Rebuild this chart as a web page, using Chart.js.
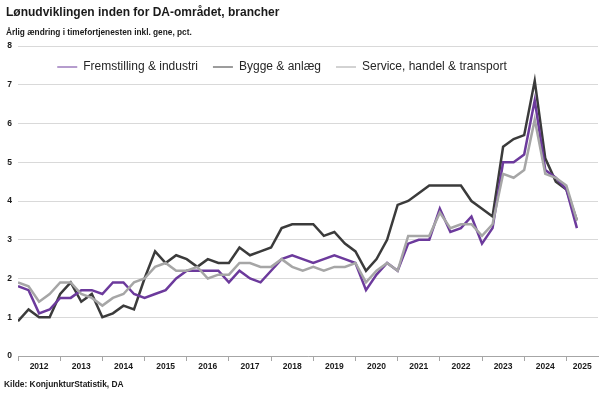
<!DOCTYPE html>
<html lang="da">
<head>
  <meta charset="UTF-8" />
  <title>Lønudviklingen inden for DA-området, brancher</title>
  <script src="https://cdn.jsdelivr.net/npm/chart.js"></script>
  <style>
    body {
      margin: 0;
      background: #fff;
      font-family: 'Liberation Sans', Arial, sans-serif;
      color: #1a1a1a;
    }
    .wrap {
      position: relative;
      width: 602px;
      height: 393px;
    }
    .chart-box {
      position: absolute;
      left: 0;
      top: 0;
      width: 602px;
      height: 393px;
    }
    .title, .sub, .src {
      position: absolute;
      font-weight: bold;
      white-space: nowrap;
    }
    .title { left: 6px; top: 5px; font-size: 12px; }
    .sub { left: 6px; top: 27px; font-size: 8.3px; }
    .src { left: 4px; top: 379px; font-size: 8.4px; }
  </style>
</head>
<body>
  <div class="wrap">
    <div class="chart-box"><canvas id="chart"></canvas></div>
    <div class="title">Lønudviklingen inden for DA-området, brancher</div>
    <div class="sub">Årlig ændring i timefortjenesten inkl. gene, pct.</div>
    <div class="src">Kilde: KonjunkturStatistik, DA</div>
  </div>

  <script>
    // kvartaler 2012K1 - 2025K2
    const years = ['2012', '2013', '2014', '2015', '2016', '2017', '2018',
                   '2019', '2020', '2021', '2022', '2023', '2024', '2025'];

    const fremstilling = [
      1.8, 1.7, 1.1, 1.2,  1.5, 1.5, 1.7, 1.7,  1.6, 1.9, 1.9, 1.6,
      1.5, 1.6, 1.7, 2.0,  2.2, 2.2, 2.2, 2.2,  1.9, 2.2, 2.0, 1.9,
      2.2, 2.5, 2.6, 2.5,  2.4, 2.5, 2.6, 2.5,  2.4, 1.7, 2.1, 2.4,
      2.2, 2.9, 3.0, 3.0,  3.8, 3.2, 3.3, 3.6,  2.9, 3.3, 5.0, 5.0,
      5.2, 6.6, 4.8, 4.6,  4.3, 3.3
    ];
    const bygge = [
      0.9, 1.2, 1.0, 1.0,  1.6, 1.9, 1.4, 1.6,  1.0, 1.1, 1.3, 1.2,
      2.0, 2.7, 2.4, 2.6,  2.5, 2.3, 2.5, 2.4,  2.4, 2.8, 2.6, 2.7,
      2.8, 3.3, 3.4, 3.4,  3.4, 3.1, 3.2, 2.9,  2.7, 2.2, 2.5, 3.0,
      3.9, 4.0, 4.2, 4.4,  4.4, 4.4, 4.4, 4.0,  3.8, 3.6, 5.4, 5.6,
      5.7, 7.1, 5.1, 4.5,  4.3, 3.5
    ];
    const service = [
      1.9, 1.8, 1.4, 1.6,  1.9, 1.9, 1.6, 1.5,  1.3, 1.5, 1.6, 1.9,
      2.0, 2.3, 2.4, 2.2,  2.2, 2.3, 2.0, 2.1,  2.1, 2.4, 2.4, 2.3,
      2.3, 2.5, 2.3, 2.2,  2.3, 2.2, 2.3, 2.3,  2.4, 1.9, 2.2, 2.4,
      2.2, 3.1, 3.1, 3.1,  3.7, 3.3, 3.4, 3.4,  3.1, 3.4, 4.7, 4.6,
      4.8, 6.1, 4.7, 4.6,  4.4, 3.5
    ];

    const toPoints = arr => arr.map((v, i) => ({ x: i, y: v }));

    // årsgrænser (tick-streger) og årstal midt i hvert år
    const boundaryTicks = years.map((y, i) => i * 4);
    const labelTicks = years.map((y, i) => i === years.length - 1 ? i * 4 + 1.5 : i * 4 + 2);
    const labelAt = {};
    labelTicks.forEach((v, i) => { labelAt[v] = years[i]; });

    const tickFont = { family: "'Liberation Sans', Arial, sans-serif", size: 8.5, weight: 'bold' };

    // legenden ligger inde i plotområdet, som i originalen
    const legendInside = {
      id: 'legendInside',
      afterLayout(chart) {
        const lg = chart.legend;
        const dy = chart.chartArea.top - lg.top;
        lg.top += dy;
        lg.bottom += dy;
        lg.left -= 18;
        lg.right -= 18;
      }
    };

    new Chart(document.getElementById('chart'), {
      type: 'line',
      data: {
        datasets: [
          { label: 'Fremstilling & industri', data: toPoints(fremstilling), borderColor: '#6c3a9c', order: 2 },
          { label: 'Bygge & anlæg', data: toPoints(bygge), borderColor: '#3b3b3b', order: 3 },
          { label: 'Service, handel & transport', data: toPoints(service), borderColor: '#a6a6a6', order: 1 }
        ]
      },
      options: {
        responsive: true,
        maintainAspectRatio: false,
        animation: false,
        layout: { padding: { left: 2, right: 4, top: 9, bottom: 15 } },
        elements: {
          line: { borderWidth: 2.5, tension: 0, fill: false },
          point: { radius: 0 }
        },
        plugins: {
          tooltip: { enabled: false },
          legend: {
            position: 'top',
            align: 'center',
            labels: {
              usePointStyle: true,
              pointStyle: 'line',
              pointStyleWidth: 20,
              boxHeight: 12,
              padding: 15,
              color: '#262626',
              font: { family: "'Liberation Sans', Arial, sans-serif", size: 12 },
              sort: (a, b) => a.datasetIndex - b.datasetIndex
            }
          }
        },
        scales: {
          x: {
            type: 'linear',
            min: 0,
            max: 55,
            afterBuildTicks: s => {
              s.ticks = boundaryTicks.concat(labelTicks).sort((a, b) => a - b).map(v => ({ value: v }));
            },
            afterFit: s => { s.height = 22; },
            ticks: {
              autoSkip: false,
              maxRotation: 0,
              padding: 1,
              color: '#1a1a1a',
              font: tickFont,
              callback: v => labelAt[v] || ''
            },
            grid: {
              drawOnChartArea: false,
              drawTicks: true,
              tickLength: 5,
              color: c => (c.tick && c.tick.value % 4 === 0) ? '#a6a6a6' : 'rgba(0,0,0,0)'
            },
            border: { color: '#a6a6a6', width: 1 }
          },
          y: {
            min: 0,
            max: 8,
            afterFit: s => { s.width = 16; },
            ticks: { stepSize: 1, padding: 6, color: '#1a1a1a', font: tickFont },
            grid: { color: '#d9d9d9', drawTicks: false },
            border: { display: false }
          }
        }
      },
      plugins: [legendInside]
    });
  </script>
</body>
</html>
